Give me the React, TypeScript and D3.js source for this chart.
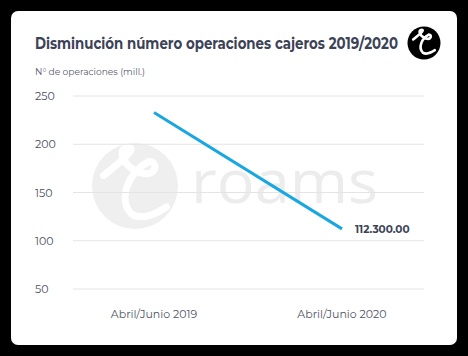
import React from "react";
import * as d3 from "d3";

const categories = ["Abril/Junio 2019", "Abril/Junio 2020"];
const values = [233, 112.3];
const yTicks = [50, 100, 150, 200, 250];
const endLabel = "112.300.00";
const title = "Disminución número operaciones cajeros 2019/2020";
const yAxisTitle = "N° de operaciones (mill.)";

const W = 468;
const H = 356;
const FONT = "Montserrat, 'Open Sans', 'DejaVu Sans', sans-serif";
const DARK = "#3b4256";

export default function App() {
  const x = d3.scalePoint<string>().domain(categories).range([154, 342]);
  const y = d3.scaleLinear().domain([50, 250]).range([289, 96]);
  const line = d3
    .line<number>()
    .x((_, i) => x(categories[i]) as number)
    .y((d) => y(d));

  const glyph = (cx: number, cy: number, s: number) =>
    `M ${cx - 0.45 * s} ${cy - 0.15 * s}
     C ${cx - 0.2 * s} ${cy - 0.35 * s}, ${cx + 0.05 * s} ${cy - 0.55 * s}, ${cx - 0.1 * s} ${cy - 0.55 * s}
     C ${cx - 0.25 * s} ${cy - 0.55 * s}, ${cx - 0.2 * s} ${cy - 0.3 * s}, ${cx + 0.05 * s} ${cy - 0.2 * s}
     C ${cx + 0.3 * s} ${cy - 0.1 * s}, ${cx + 0.35 * s} ${cy - 0.35 * s}, ${cx + 0.2 * s} ${cy - 0.35 * s}
     C ${cx - 0.1 * s} ${cy - 0.2 * s}, ${cx - 0.25 * s} ${cy + 0.2 * s}, ${cx - 0.05 * s} ${cy + 0.4 * s}
     C ${cx + 0.1 * s} ${cy + 0.5 * s}, ${cx + 0.3 * s} ${cy + 0.4 * s}, ${cx + 0.45 * s} ${cy + 0.3 * s}`;

  return (
    <svg
      width={W}
      height={H}
      style={{ position: "absolute", left: 0, top: 0, display: "block" }}
      fontFamily={FONT}
    >
      <rect x={0} y={0} width={W} height={H} fill="#000" />
      <rect x={11} y={11} width={446} height={334} rx={7} fill="#fff" />

      {/* watermark */}
      <circle cx={135} cy={186} r={43} fill="#efefef" />
      <path d={glyph(135, 186, 70)} fill="none" stroke="#fff" strokeWidth={7} strokeLinecap="round" />
      <text
        x={191}
        y={203}
        fontSize={60}
        fontWeight={500}
        fill="#ececec"
        fontFamily="'Open Sans', sans-serif"
        textLength={187}
        lengthAdjust="spacingAndGlyphs"
      >
        roams
      </text>

      {/* title */}
      <text x={35} y={49} fontSize={15.5} fontWeight={700} fill={DARK} textLength={363} lengthAdjust="spacingAndGlyphs">
        {title}
      </text>
      <circle cx={424} cy={43} r={16.5} fill="#000" />
      <path d={glyph(424, 43, 24)} fill="none" stroke="#fff" strokeWidth={2.6} strokeLinecap="round" />

      <text x={35} y={75} fontSize={8.5} fill="#555b6b" textLength={110} lengthAdjust="spacingAndGlyphs">
        {yAxisTitle}
      </text>

      {/* grid + ticks */}
      {yTicks.map((t) => (
        <g key={t}>
          <line x1={73} x2={424} y1={y(t)} y2={y(t)} stroke="#e4e4e4" strokeWidth={1} />
          <text x={35} y={y(t) + 4} fontSize={11} fill="#4a4f60">
            {t}
          </text>
        </g>
      ))}

      {/* categories */}
      {categories.map((c) => (
        <text key={c} x={x(c) as number} y={318} fontSize={11} fill="#4f5466" textAnchor="middle">
          {c}
        </text>
      ))}

      {/* line */}
      <path d={line(values) || ""} fill="none" stroke="#1aa7e0" strokeWidth={3} />

      <text
        x={(x(categories[1]) as number) + 13}
        y={y(values[1]) + 4}
        fontSize={10.5}
        fontWeight={700}
        fill={DARK}
      >
        {endLabel}
      </text>
    </svg>
  );
}
